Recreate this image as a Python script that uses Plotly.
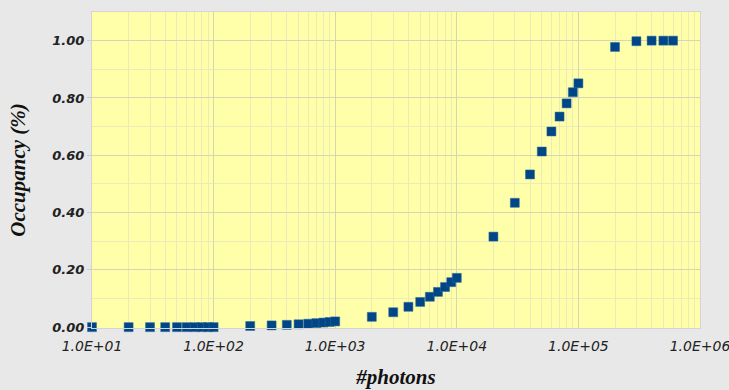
import plotly.graph_objects as go
import base64

photons = [10, 20, 30, 40, 50, 60, 70, 80, 90, 100,
           200, 300, 400, 500, 600, 700, 800, 900, 1000,
           2000, 3000, 4000, 5000, 6000, 7000, 8000, 9000, 10000,
           20000, 30000, 40000, 50000, 60000, 70000, 80000, 90000, 100000,
           200000, 300000, 400000, 500000, 600000]
occupancy = [0.0, 0.0, 0.0, 0.0, 0.0, 0.0, 0.0, 0.0, 0.0, 0.0,
             0.004, 0.006, 0.008, 0.010, 0.012, 0.014, 0.016, 0.018, 0.020,
             0.036, 0.052, 0.071, 0.088, 0.106, 0.123, 0.140, 0.157, 0.172,
             0.316, 0.434, 0.533, 0.613, 0.683, 0.735, 0.781, 0.820, 0.851,
             0.978, 0.998, 1.0, 1.0, 1.0]

x_tickvals = [10, 100, 1000, 10000, 100000, 1000000]
x_ticktext = ["1.0E+01", "1.0E+02", "1.0E+03", "1.0E+04", "1.0E+05", "1.0E+06"]
x_minor = [m * 10 ** d for d in range(1, 6) for m in range(2, 10)]
y_tickvals = [0.0, 0.2, 0.4, 0.6, 0.8, 1.0]
y_ticktext = ["0.00", "0.20", "0.40", "0.60", "0.80", "1.00"]
y_minor = [0.1, 0.3, 0.5, 0.7, 0.9]

svg = ('<svg xmlns="http://www.w3.org/2000/svg" width="729" height="390">'
       '<defs><linearGradient id="g" x1="0" y1="0" x2="0" y2="1">'
       '<stop offset="0" stop-color="#f5f5f5"/><stop offset="1" stop-color="#e0e0e0"/>'
       '</linearGradient></defs><rect width="729" height="390" fill="url(#g)"/></svg>')
bg_src = "data:image/svg+xml;base64," + base64.b64encode(svg.encode()).decode()

fig = go.Figure()
fig.add_trace(go.Scatter(
    x=photons, y=occupancy, mode="markers",
    marker=dict(symbol="square", size=9, color="#004586",
                line=dict(color="#2a6aa0", width=0.5)),
    cliponaxis=False, showlegend=False,
))

title_font = dict(family="Liberation Serif", size=21, color="#111111",
                  style="italic", weight="bold")

fig.update_layout(
    width=729, height=390,
    margin=dict(l=92, r=29, t=12, b=62),
    paper_bgcolor="#e8e8e8",
    plot_bgcolor="#ffffaa",
    images=[dict(source=bg_src, xref="paper", yref="paper", x=0, y=1,
                 sizex=1, sizey=1, xanchor="left", yanchor="top",
                 sizing="stretch", layer="below")],
    shapes=[dict(type="rect", xref="x domain", yref="y domain", x0=0, x1=1, y0=0, y1=1,
                 fillcolor="#ffffaa", line=dict(width=0), layer="below")],
    xaxis=dict(
        type="log", range=[1, 6], automargin=False,
        tickmode="array", tickvals=x_tickvals, ticktext=x_ticktext,
        tickfont=dict(family="DejaVu Sans", size=14, color="#222222", style="italic"),
        ticklabeloverflow="allow",
        ticks="outside", ticklen=5, tickcolor="rgba(0,0,0,0)",
        showgrid=True, gridcolor="#d8d6b2", gridwidth=1,
        minor=dict(tickmode="array", tickvals=x_minor, showgrid=True,
                   gridcolor="#ecebb8", gridwidth=1),
        showline=True, linecolor="#d4d4d4", mirror=True, zeroline=False,
        title=dict(text="#photons", font=title_font, standoff=16),
    ),
    yaxis=dict(
        range=[-0.003, 1.1], automargin=False,
        tickmode="array", tickvals=y_tickvals, ticktext=y_ticktext,
        tickfont=dict(family="DejaVu Sans", size=13, color="#222222",
                      style="italic", weight="bold"),
        ticks="outside", ticklen=4, tickcolor="#cccccc",
        showgrid=True, gridcolor="#d8d6b2", gridwidth=1,
        minor=dict(tickmode="array", tickvals=y_minor, showgrid=True,
                   gridcolor="#ecebb8", gridwidth=1),
        showline=True, linecolor="#d4d4d4", mirror=True, zeroline=False,
        title=dict(text="Occupancy (%)", font=title_font, standoff=20),
    ),
)

fig.write_html("out.html")
